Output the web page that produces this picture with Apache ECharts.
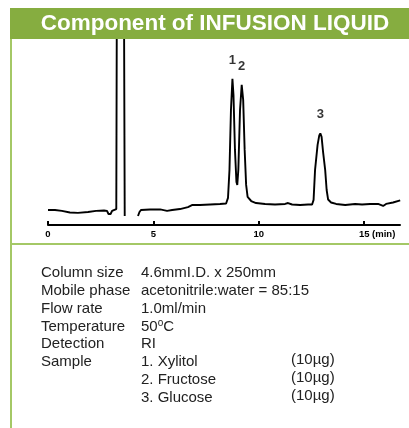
<!DOCTYPE html>
<html>
<head>
<meta charset="utf-8">
<script src="https://cdn.jsdelivr.net/npm/echarts@6/dist/echarts.min.js"></script>
<style>
html,body{margin:0;padding:0;background:#fff;}
#c{width:409px;height:428px;}
</style>
</head>
<body>
<div id="c"></div>
<script>
// ---- data ----
const traceTime = [0.00,0.33,0.66,1.04,1.42,1.90,2.28,2.66,2.80,2.87,2.97,3.04,3.13,3.24,3.27,3.60,3.64,3.95,4.27,4.34,4.41,4.84,5.32,5.65,5.89,6.26,6.64,6.83,7.21,7.69,8.16,8.45,8.54,8.61,8.68,8.75,8.80,8.87,8.94,8.98,9.03,9.11,9.19,9.26,9.33,9.40,9.47,9.64,9.87,10.30,10.77,11.25,11.39,11.58,11.96,12.34,12.53,12.60,12.67,12.79,12.87,12.92,12.98,13.05,13.15,13.22,13.29,13.43,13.67,14.10,14.57,14.90,15.28,15.66,15.90,16.04,16.37,16.71];
const traceSignal = [8.2,8.2,7.7,6.8,6.6,7.1,7.7,7.9,7.7,6.0,6.0,7.7,8.2,8.7,140,140,4.9,null,4.9,7.1,8.2,8.5,8.5,7.7,8.2,8.7,9.8,10.9,10.9,11.2,11.5,11.7,14.8,30.1,62.8,79.8,71.0,41.0,23.5,21.9,30.1,62.8,76.5,68.3,41.0,21.9,15.3,13.1,12.0,11.5,11.2,11.5,12.0,11.2,10.9,11.2,11.2,13.7,30.1,43.7,48.9,50.0,48.1,39.9,30.1,19.1,13.9,12.3,11.5,10.9,11.5,11.2,11.5,11.5,10.4,11.5,12.3,13.4];
const peakNames = ['1','2','3'];
const peakTimes = [8.75,9.19,12.92];
const peakHeights = [79.8,76.5,50.0];
const tickValues = [0,5,10,15];
const tickLabels = ['0','5','10','15 (min)'];
const titleText = 'Component of INFUSION LIQUID';
const paramNames = ['Column size','Mobile phase','Flow rate','Temperature','Detection','Sample','',''];
const paramValues = ['4.6mmI.D. x 250mm','acetonitrile:water = 85:15','1.0ml/min','50{o|o}C','RI','1. Xylitol','2. Fructose','3. Glucose'];
const sampleAmounts = ['(10\u00B5g)','(10\u00B5g)','(10\u00B5g)'];

// ---- chart ----
const chart = echarts.init(document.getElementById('c'), null, {renderer:'canvas'});
const green = '#86ad40';
const lineGreen = '#a4c866';
const FONT = '"Liberation Sans", Arial, sans-serif';

const lineData = traceTime.map((t,i)=>[t, traceSignal[i]===null ? '-' : traceSignal[i]]);
const peakData = peakTimes.map((t,i)=>({value:[t, peakHeights[i]], name:peakNames[i]}));

const graphics = [
  {type:'rect', left:10, top:8, shape:{width:399, height:31}, style:{fill:green}, z:10},
  {type:'text', x:215, y:24, style:{text:titleText, fill:'#fff', font:'bold 22.5px '+FONT, textAlign:'center', textVerticalAlign:'middle'}, z:11},
  {type:'line', shape:{x1:11, y1:39, x2:11, y2:428}, style:{stroke:lineGreen, lineWidth:2}, z:10},
  {type:'line', shape:{x1:11, y1:244, x2:409, y2:244}, style:{stroke:lineGreen, lineWidth:2}, z:10}
];
const rowY0 = 273, rowH = 17.8;
const textStyle = {fill:'#222', font:'15px '+FONT, textVerticalAlign:'middle',
  rich:{o:{fontSize:10, fontFamily:FONT, fill:'#222', verticalAlign:'top', padding:[0,0,6,0]}}};
paramNames.forEach((n,i)=>{
  if(n) graphics.push({type:'text', x:41, y:rowY0+i*rowH, style:Object.assign({}, textStyle, {text:n})});
});
paramValues.forEach((v,i)=>{
  graphics.push({type:'text', x:141, y:rowY0+i*rowH, style:Object.assign({}, textStyle, {text:v})});
});
sampleAmounts.forEach((v,i)=>{
  graphics.push({type:'text', x:291, y:rowY0+(5+i)*rowH-2, style:Object.assign({}, textStyle, {text:v})});
});

chart.setOption({
  animation:false,
  backgroundColor:'#fff',
  grid:{left:48, right:9, top:40, bottom:203, containLabel:false},
  xAxis:{
    type:'value', min:0, max:16.7, interval:5,
    axisLine:{show:true, lineStyle:{color:'#000', width:2}},
    axisTick:{show:true, inside:true, length:4, lineStyle:{color:'#000', width:2}},
    splitLine:{show:false},
    axisLabel:{
      show:true, margin:4, color:'#000', fontSize:9.5, fontWeight:'bold', fontFamily:FONT,
      showMaxLabel:false,
      formatter:function(v){
        const i = tickValues.indexOf(v);
        if(i<0) return '';
        if(i===tickValues.length-1){
          const parts = tickLabels[i].split(' ');
          return '{h| ' + parts[1] + '}' + parts[0] + ' ' + parts[1];
        }
        return tickLabels[i];
      },
      rich:{h:{color:'rgba(0,0,0,0)', fontSize:9.5, fontWeight:'bold', fontFamily:FONT}}
    }
  },
  yAxis:{type:'value', min:0, max:101, show:false, splitLine:{show:false}},
  series:[
    {
      type:'line', data:lineData, showSymbol:false, symbol:'none', connectNulls:false, clip:true,
      lineStyle:{color:'#000', width:1.9}, z:3
    },
    {
      type:'scatter', data:peakData, symbolSize:0, z:4,
      label:{show:true, position:'top', distance:12, formatter:'{b}', color:'#000', fontSize:13, fontWeight:'bold', fontFamily:FONT}
    }
  ],
  graphic:graphics
});
</script>
</body>
</html>
